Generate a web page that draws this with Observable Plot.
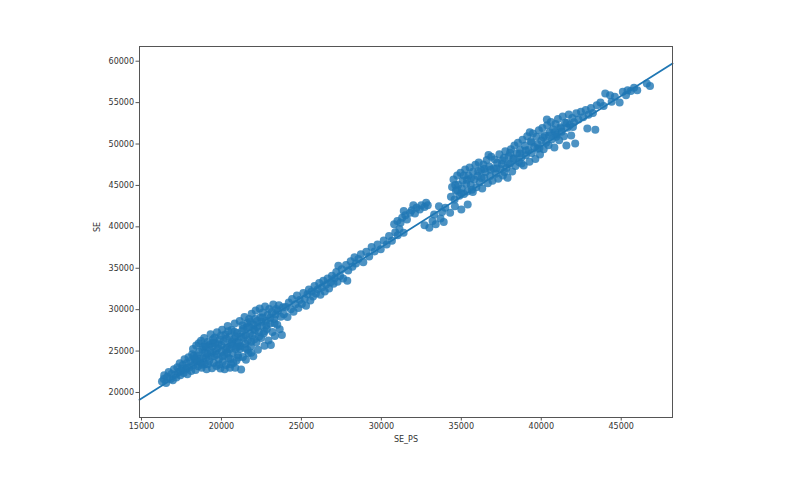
<!DOCTYPE html>
<html>
<head>
<meta charset="utf-8">
<script src="https://cdn.jsdelivr.net/npm/d3@7"></script>
<script src="https://cdn.jsdelivr.net/npm/@observablehq/plot@0.6"></script>
<style>
  html, body { margin: 0; padding: 0; background: #fff; }
  #chart { width: 800px; height: 491px; }
  svg { font-family: "DejaVu Sans", sans-serif; }
</style>
</head>
<body>
<div id="chart"></div>
<script>
// Axis labels and ticks
const xLabel = "SE_PS";
const yLabel = "SE";
const xTicks = [15000, 20000, 25000, 30000, 35000, 40000, 45000];
const yTicks = [20000, 25000, 30000, 35000, 40000, 45000, 50000, 55000, 60000];

// Regression line end points
const fitX = [14875, 48206];
const fitY = [19118, 59722];

// Scatter points [SE_PS, SE]
const lowerCluster = [
  [16280,21330],[16420,22080],[16390,21620],[16540,21150],[16610,21890],[16700,22470],[16820,21640],
  [16880,22230],[16960,21480],[17030,22810],[17120,22140],[17180,21820],[17240,23060],[17310,22470],
  [17390,23520],[17430,22090],[17520,22870],[17580,23310],[17640,22360],[17690,24010],[17760,22780],
  [17830,23570],[17870,22210],[17940,24260],[17990,23020],[18060,23790],[18110,22580],[18170,24630],
  [18220,25240],[18260,23330],[18330,24090],[18380,22710],[18420,25660],[18470,24470],[18530,23170],
  [18580,25930],[18610,24880],[18680,23610],[18720,26240],[18760,22980],[18810,25170],[18870,24140],
  [18920,26570],[18960,23420],[19020,25480],[19070,22820],[19110,24720],[19160,26120],[19230,23790],
  [19270,25790],[19320,27030],[19380,24310],[19410,22940],[19470,25990],[19520,23560],[19580,26640],
  [19630,24980],[19690,23190],[19720,27280],[19780,25330],[19840,24020],[19890,26410],[19930,22890],
  [19990,25710],[20040,27560],[20080,23710],[20130,26190],[20190,24560],[20240,27010],[20290,23330],
  [20330,25420],[20390,28040],[20440,24170],[20480,26720],[20530,22980],[20590,25860],[20640,27550],
  [20690,24730],[20740,23560],[20780,26460],[20830,28330],[20890,25240],[20940,23850],[20980,27190],
  [21030,24510],[21090,26080],[21140,28620],[21190,25570],[21230,22760],[21280,27430],[21340,24270],
  [21390,26610],[21440,29110],[21490,25880],[21530,23940],[21580,27890],[21640,26300],[21690,24770],
  [21730,28860],[21780,27120],[21840,25590],[21890,29520],[21940,26880],[21990,24380],[22040,28190],
  [22090,27550],[22140,29890],[22190,26060],[22230,28630],[22280,25170],[22340,27310],[22390,30140],
  [22430,29040],[22480,26590],[22530,28050],[22590,29660],[22640,27120],[22690,25640],[22730,30380],
  [22790,28640],[22840,27670],[22890,29350],[22940,26290],[22990,30070],[23040,28330],[23090,25730],
  [23140,29730],[23190,27310],[23240,30610],[23290,28860],[23340,26820],[23390,29420],[23440,30080],
  [23490,28170],[23540,29870],[23590,30520],[23640,27620],[23710,29150],[23780,26930],[23850,30280],
  [19050,24260],[19560,24410],[20010,24880],[20510,25260],[21010,25970],[21510,26900],[22010,27700],
  [22510,28550],[19290,25140],[19810,25820],[20310,26500],[20810,27330],[21310,28120],[21810,28560],
  [18940,24810],[19440,25560],[20560,24040],[21060,24230],[20200,22810],[20860,22980],[21620,25150],
  [18350,23720],[18790,23350],
  [18630,24050],[18880,25560],[19150,23420],[19360,24790],[19600,25930],[19850,23380],[20070,24380],
  [20280,25170],[20420,27380],[20660,26100],[20900,26770],[21160,25240],[21370,27720],[21610,28380],
  [21860,26120],[22110,28870],[22360,26770],[22570,29040],[22810,28090],[23060,29010],[19480,26430],
  [19970,26890],[20720,25620],[21210,26720],[21720,27910],[22240,27930],[18470,23850],[18990,25710],
  [19720,24580],[20370,24790],[20990,25500],[21460,25390],[22060,26440],[22700,27390],[23320,28370],
  [17840,22990],[18260,24410],[17460,22560],[20600,23420],[21860,24810]
];

const midSection = [
  [23900,29450],[24020,30310],[24130,29120],[24210,30860],[24340,30040],[24420,31290],[24510,29760],
  [24630,30650],[24720,31720],[24810,30210],[24890,31180],[25030,30690],[25120,32010],[25210,31330],
  [25290,30480],[25380,31870],[25470,32440],[25560,31120],[25640,32180],[25730,31590],[25820,32870],
  [25910,31940],[26020,32460],[26110,33220],[26190,31800],[26280,32690],[26370,33480],[26460,32200],
  [26550,33030],[26640,33760],[26730,32570],[26820,33300],[26910,34090],[27010,33120],[27090,33790],
  [27180,34560],[27260,33380],[27310,35300],[27420,34060],[27520,34880],[27610,33760],[27870,33500],
  [27790,35400],[27930,34720],[28080,35840],[28190,35170],[28320,36330],[28410,35560],[28560,36110],
  [28720,36690],[28870,35740],[29060,36980],[29240,36410],[29390,37560],[29570,37030],[29760,37880],
  [29960,37290],[30150,38360],[30330,37870],[30480,38880],[30660,38320],[30870,39360],[31020,38980],
  [31130,39730],[31390,39280]
];

const upperGroup = [
  [30800,40300],[31000,40700],[31200,40500],[31300,41100],[31400,41900],[31500,41400],[31600,40900],
  [31800,41700],[31900,42000],[32000,42600],[32100,41600],[32200,42300],[32400,42100],[32500,42600],
  [32700,42400],[32800,42900],[32900,42600],[32700,40200],[33000,39900],[33200,40700],[33400,40300],
  [33700,41000],[33900,40600],[33800,41800],[34000,42300],[34300,41700],[34600,42500],[35000,42100],
  [35400,42700],[33600,42500],[33300,41500]
];

const upperCluster = [
  [34350,43620],[34420,44810],[34510,45730],[34580,43290],[34660,44370],[34740,46190],[34810,45080],
  [34880,43750],[34950,46540],[35030,44620],[35090,45590],[35170,43980],[35240,46930],[35310,45170],
  [35380,44260],[35440,46210],[35520,47180],[35590,45060],[35660,44480],[35730,46640],[35810,45720],
  [35880,47490],[35940,44790],[36020,46150],[36090,47780],[36160,45380],[36230,46870],[36310,44620],
  [36380,47520],[36440,45940],[36520,46630],[36590,48080],[36660,45270],[36740,47290],[36810,46140],
  [36870,48460],[36950,45580],[37020,47060],[37090,48120],[37160,46420],[37240,47730],[37310,45810],
  [37380,48760],[37450,46990],[37530,47580],[37600,46190],[37670,48340],[37750,49120],[37820,47120],
  [37890,45920],[37960,48530],[38030,47610],[38100,49380],[38180,46680],[38250,48190],[38320,49830],
  [38390,47340],[38470,48870],[38540,50160],[38610,47820],[38680,49310],[38760,48410],[38830,50520],
  [38900,47400],[38970,49780],[39040,48650],[39120,50940],[39190,49270],[39260,47850],[39340,50330],
  [39410,48920],[39480,51280],[39560,49640],[39630,48180],[39700,50870],[39780,49980],[39850,51650],
  [39920,48730],[40000,50420],[40070,51930],[40150,49360],[40220,51020],[40300,50160],[40370,52270],
  [40450,49850],[40520,51430],[40600,52650],[40670,50580],[40740,51790],[40820,49590],[40890,52410],
  [40970,51160],[41040,53010],[41120,50470],[41190,52040],[41270,51480],[41340,53320],[41420,50940],
  [41490,52580],[41570,49820],[41640,51960],[41720,53570],[41790,52300],[41870,51020],[41940,53140],
  [42120,50060],[42050,52620],[42190,53720],[42330,52950],[42480,53890],[42620,53240],[42780,54120],
  [42880,51880],[42950,53550],[43110,54360],[43230,53760],[43380,51720],[43470,54680],
  [34620,45040],[34990,44050],[35360,45690],[35720,44220],[36060,46700],[36440,47010],[36830,46880],
  [37200,47050],[37560,48010],[37930,47600],[38300,48280],[38660,48850],[39030,49230],[39390,50150],
  [39760,49440],[40120,50830],[40490,50990],[40860,51460],[41230,51880],[41600,52530],[41980,52050],
  [36260,45890],[37700,46620],[38760,47640],[39880,49480],[40940,50880],[35150,46210],[36700,48680],
  [38050,48950],[39280,51430],[40350,52960],[34750,44420],[35600,45880]
];

const topSection = [
  [43700,55000],[44000,56100],[43900,54600],[44300,55900],[44400,55100],[44600,55700],[44900,55000],
  [45100,56300],[45400,56500],[45300,55900],[45600,56400],[45800,56800],[46000,56500],[46600,57300],
  [46800,57000]
];

const points = [...lowerCluster, ...midSection, ...upperGroup, ...upperCluster, ...topSection]
  .map(([x, y]) => ({x, y}));
const fit = fitX.map((x, i) => ({x, y: fitY[i]}));

const blue = "#1f77b4";

const chart = Plot.plot({
  width: 800,
  height: 491,
  marginLeft: 139,
  marginRight: 128,
  marginTop: 46,
  marginBottom: 74,
  style: { fontFamily: "DejaVu Sans, sans-serif", fontSize: "8px", color: "#333", background: "#fff" },
  x: { domain: [14875, 48206] },
  y: { domain: [16979, 61776] },
  marks: [
    Plot.dot(points, { x: "x", y: "y", r: 4, fill: blue, fillOpacity: 0.8, stroke: "none" }),
    Plot.line(fit, { x: "x", y: "y", stroke: blue, strokeWidth: 1.8 }),
    Plot.frame({ stroke: "#555", strokeWidth: 1 }),
    Plot.axisX({ ticks: xTicks, tickFormat: d => String(d), tickSize: 3.5, tickPadding: 2.5, label: null, stroke: "#555", fill: "#333" }),
    Plot.axisY({ ticks: yTicks, tickFormat: d => String(d), tickSize: 3.5, tickPadding: 2, label: null, stroke: "#555", fill: "#333" }),
    Plot.text([xLabel], { frameAnchor: "bottom", dy: 24, text: d => d, fill: "#333", fontSize: 8 }),
    Plot.text([yLabel], { frameAnchor: "left", dx: -42, rotate: -90, text: d => d, fill: "#333", fontSize: 8 })
  ]
});
document.getElementById("chart").appendChild(chart);
</script>
</body>
</html>
